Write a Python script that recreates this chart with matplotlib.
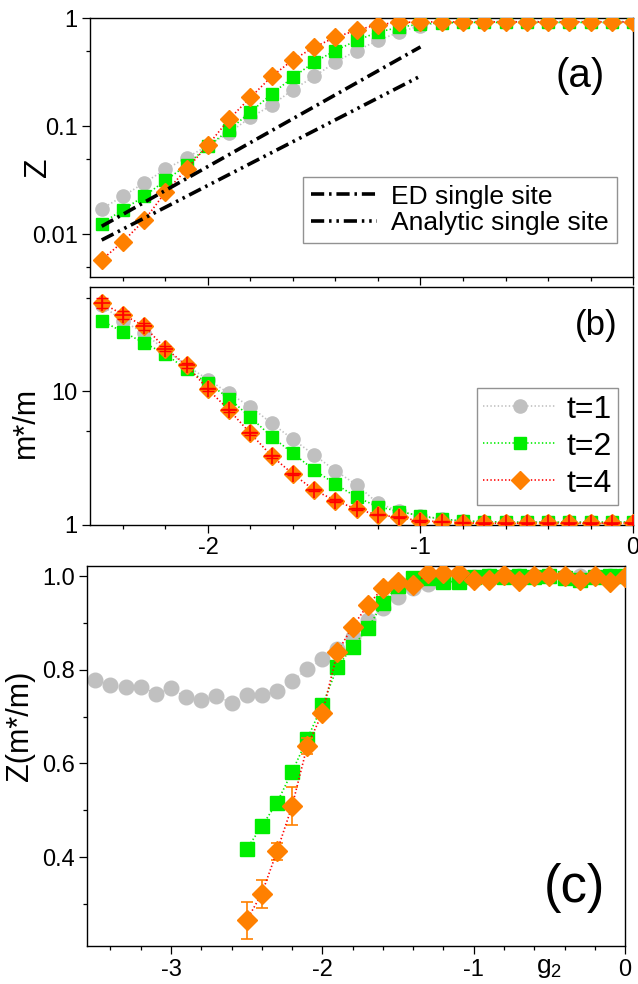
import matplotlib
matplotlib.use("Agg")
import matplotlib.pyplot as plt
import matplotlib.transforms as mtransforms
import numpy as np

plt.rcParams['font.family'] = ['Liberation Sans', 'DejaVu Sans']
plt.rcParams['mathtext.fontset'] = 'custom'
plt.rcParams['mathtext.rm'] = 'Liberation Sans'
plt.rcParams['lines.scale_dashes'] = False

# ---- data ----
g_ab = [-2.5, -2.4, -2.3, -2.2, -2.1, -2.0, -1.9, -1.8, -1.7, -1.6, -1.5, -1.4, -1.3,
        -1.2, -1.1, -1.0, -0.9, -0.8, -0.7, -0.6, -0.5, -0.4, -0.3, -0.2, -0.1, 0.0]

# (a) quasiparticle weight Z
z_t1 = [0.0171, 0.0224, 0.0298, 0.0397, 0.0509, 0.066, 0.087, 0.12, 0.156, 0.217, 0.288, 0.39, 0.50,
        0.62, 0.74, 0.85, 0.91, 0.93, 0.93, 0.93, 0.93, 0.93, 0.93, 0.93, 0.93, 0.93]
z_t2 = [0.0125, 0.0168, 0.0224, 0.0313, 0.0435, 0.065, 0.092, 0.135, 0.198, 0.283, 0.39, 0.50, 0.62,
        0.74, 0.82, 0.88, 0.90, 0.91, 0.91, 0.91, 0.91, 0.91, 0.91, 0.91, 0.91, 0.91]
z_t4 = [0.00577, 0.0085, 0.0134, 0.0244, 0.040, 0.0667, 0.116, 0.184, 0.288, 0.41, 0.537, 0.665, 0.77,
        0.87, 0.91, 0.92, 0.92, 0.92, 0.92, 0.92, 0.92, 0.92, 0.92, 0.92, 0.92, 0.92]

# single-site results (straight lines on the log axis)
ed_g = [-2.5, -1.0]
ed_z = [0.0118, 0.54]
an_g = [-2.5, -1.0]
an_z = [0.0088, 0.29]

# (b) effective mass m*/m
m_t1 = [43.8, 33.5, 27.0, 20.2, 15.5, 12.2, 9.6, 7.64, 5.74, 4.36, 3.33, 2.54, 1.99,
        1.45, 1.27, 1.16, 1.10, 1.07, 1.06, 1.05, 1.05, 1.05, 1.05, 1.05, 1.05, 1.05]
m_t2 = [33.5, 27.7, 22.9, 18.9, 14.5, 11.5, 8.8, 6.37, 4.56, 3.43, 2.57, 2.02, 1.61,
        1.37, 1.26, 1.17, 1.11, 1.07, 1.06, 1.05, 1.05, 1.05, 1.05, 1.05, 1.05, 1.05]
m_t4 = [45.6, 37.3, 30.5, 20.8, 15.6, 10.3, 7.2, 4.83, 3.27, 2.40, 1.82, 1.52, 1.31,
        1.19, 1.14, 1.07, 1.06, 1.04, 1.03, 1.03, 1.03, 1.03, 1.03, 1.03, 1.03, 1.03]
m_t4_err = [4.0, 2.5, 1.8, 1.0, 0.6, 0.3, 0.2, 0.1, 0.08, 0.05, 0.04, 0.03, 0.02,
            0.01, 0.01, 0.01, 0.01, 0.01, 0.01, 0.01, 0.01, 0.01, 0.01, 0.01, 0.01, 0.01]

# (c) Z(m*/m)
g_c1 = [-3.5, -3.4, -3.3, -3.2, -3.1, -3.0, -2.9, -2.8, -2.7, -2.6] + g_ab
zm_t1 = [0.778, 0.768, 0.764, 0.764, 0.749, 0.760, 0.741, 0.736, 0.744, 0.729,
         0.746, 0.746, 0.754, 0.776, 0.801, 0.822, 0.845, 0.869, 0.906, 0.931, 0.956, 0.974, 0.984,
         0.990, 0.995, 0.998, 0.999, 1.0, 1.0, 1.0, 1.0, 1.0, 1.0, 1.0, 1.0, 1.0]
zm_t2 = [0.417, 0.466, 0.516, 0.582, 0.652, 0.724, 0.806, 0.849, 0.888, 0.942, 0.979, 0.995, 0.995,
         0.988, 0.988, 0.998, 1.0, 0.998, 1.0, 0.998, 1.0, 0.995, 0.991, 0.998, 1.0, 1.0]
zm_t4 = [0.265, 0.322, 0.412, 0.509, 0.637, 0.707, 0.838, 0.892, 0.938, 0.974, 0.988, 0.981, 1.006,
         1.006, 1.006, 0.991, 0.991, 1.002, 0.990, 1.0, 1.0, 1.0, 0.991, 1.0, 0.988, 0.998]
zm_t4_err = [0.04, 0.03, 0.018, 0.04, 0.017, 0.01, 0.006, 0.005, 0.005, 0.004, 0.004, 0.004, 0.004,
             0.004, 0.004, 0.004, 0.004, 0.004, 0.004, 0.004, 0.004, 0.004, 0.004, 0.004, 0.004, 0.004]

GRAY = '#c0c0c0'
GREEN = '#00ee00'
ORANGE = '#ff8000'
RED = '#ff0000'

fig = plt.figure(figsize=(6.38, 9.84), dpi=100)
ax1 = fig.add_axes([0.1411, 0.7185, 0.8511, 0.2632])
ax2 = fig.add_axes([0.1411, 0.4665, 0.8511, 0.2419])
ax3 = fig.add_axes([0.1364, 0.0386, 0.8433, 0.3862])


def style_axis(ax):
    for s in ax.spines.values():
        s.set_linewidth(1.0)
    ax.tick_params(which='both', direction='out', top=False, right=False, width=0.9,
                   labelsize=17, pad=3)
    ax.tick_params(which='major', length=6)
    ax.tick_params(which='minor', length=3)


# ---------------- (a) ----------------
ax1.plot(g_ab, z_t1, ':', color=GRAY, lw=1.2, marker='o', ms=9.5, mfc=GRAY, mec=GRAY, zorder=2)
ax1.plot(g_ab, z_t2, ':', color=GREEN, lw=1.2, marker='s', ms=9, mfc=GREEN, mec=GREEN, zorder=3)
ax1.plot(g_ab, z_t4, ':', color=RED, lw=1.2, marker='D', ms=9, mfc=ORANGE, mec=ORANGE, zorder=4)
l_ed, = ax1.plot(ed_g, ed_z, color='k', lw=2.6, dashes=(9.5, 3.5, 1.8, 3.5), zorder=5)
l_an, = ax1.plot(an_g, an_z, color='k', lw=2.6, dashes=(9.5, 3.5, 1.8, 3.5, 1.8, 3.5), zorder=5)
ax1.set_yscale('log')
ax1.set_ylim(0.004, 1.0)
ax1.set_xlim(-2.555, 0.0)
ax1.set_yticks([0.01, 0.1, 1], ['0.01', '0.1', '1'])
ax1.set_yticks([0.005, 0.05, 0.5], minor=True)
ax1.set_yticklabels([], minor=True)
ax1.set_xticks([-2, -1, 0])
ax1.set_xticks(np.arange(-2.4, 0.0, 0.2), minor=True)
ax1.set_xticklabels([])
ax1.set_ylabel('Z', fontsize=23)
ax1.yaxis.set_label_coords(-0.068, 0.425)
style_axis(ax1)
leg1 = ax1.legend([l_ed, l_an], ['ED single site', 'Analytic single site'], loc='lower right',
                  bbox_to_anchor=(0.9705, 0.131), borderaxespad=0, fontsize=19, frameon=True,
                  fancybox=False, edgecolor='#777777', handlelength=2.5, handletextpad=0.55,
                  labelspacing=0.1, borderpad=0.3)
leg1.get_frame().set_linewidth(1.0)
ax1.text(0.948, 0.776, '(a)', transform=ax1.transAxes, ha='right', va='center', fontsize=29)

# ---------------- (b) ----------------
h1, = ax2.plot(g_ab, m_t1, ':', color=GRAY, lw=1.2, marker='o', ms=9.5, mfc=GRAY, mec=GRAY, zorder=2)
h2, = ax2.plot(g_ab, m_t2, ':', color=GREEN, lw=1.2, marker='s', ms=9, mfc=GREEN, mec=GREEN, zorder=3)
h3, = ax2.plot(g_ab, m_t4, ':', color=RED, lw=1.2, marker='D', ms=9, mfc=ORANGE, mec=ORANGE, zorder=4)
ax2.errorbar(g_ab, m_t4, yerr=m_t4_err, fmt='none', ecolor=RED, elinewidth=1.0, capsize=4,
             capthick=1.0, zorder=5)
ax2.plot(g_ab, m_t4, linestyle='none', marker='+', ms=11, mew=1.2, color=RED, zorder=6)
ax2.set_yscale('log')
ax2.set_ylim(1, 60)
ax2.set_xlim(-2.555, 0.0)
ax2.set_yticks([1, 10], ['1', '10'])
ax2.set_yticks([5, 50], minor=True)
ax2.set_yticklabels([], minor=True)
ax2.set_xticks([-2, -1, 0], ['-2', '-1', '0'])
ax2.set_xticks(np.arange(-2.4, 0.0, 0.2), minor=True)
ax2.set_ylabel('m*/m', fontsize=22)
ax2.yaxis.set_label_coords(-0.09, 0.43)
style_axis(ax2)
leg2 = ax2.legend([h1, h2, h3], ['t=1', 't=2', 't=4'], loc='lower right',
                  bbox_to_anchor=(0.972, 0.084), borderaxespad=0, fontsize=23, frameon=True,
                  fancybox=False, edgecolor='#777777', handlelength=2.3, handletextpad=0.3,
                  labelspacing=0.22, borderpad=0.2, markerscale=1.0)
leg2.get_frame().set_linewidth(1.0)
ax2.text(0.972, 0.84, '(b)', transform=ax2.transAxes, ha='right', va='center', fontsize=25)

# ---------------- (c) ----------------
ax3.plot(g_c1, zm_t1, ':', color=GRAY, lw=1.0, marker='o', ms=10.5, mfc=GRAY, mec=GRAY, zorder=2)
ax3.plot(g_ab, zm_t2, ':', color=GREEN, lw=1.2, marker='s', ms=10, mfc=GREEN, mec=GREEN, zorder=3)
ax3.errorbar(g_ab, zm_t4, yerr=zm_t4_err, fmt=':', color=RED, lw=1.2, marker='D', ms=10.5,
             mfc=ORANGE, mec=ORANGE, ecolor=ORANGE, elinewidth=1.2, capsize=4.5, capthick=1.2,
             zorder=4)
ax3.set_xlim(-3.555, 0.0)
ax3.set_ylim(0.21, 1.0214)
ax3.set_yticks([0.4, 0.6, 0.8, 1.0], ['0.4', '0.6', '0.8', '1.0'])
ax3.set_yticks([0.3, 0.5, 0.7, 0.9], minor=True)
ax3.set_xticks([-3, -2, -1, 0], ['-3', '-2', '-1', '0'])
ax3.set_xticks(np.arange(-3.4, 0.0, 0.2), minor=True)
ax3.set_ylabel('Z(m*/m)', fontsize=22)
ax3.yaxis.set_label_coords(-0.097, 0.58)
style_axis(ax3)
trans = mtransforms.blended_transform_factory(ax3.transData, ax3.transAxes)
ax3.text(-0.5, -0.026, r'$\mathregular{g_2}$', transform=trans, ha='center', va='top', fontsize=19)
ax3.text(0.963, 0.153, '(c)', transform=ax3.transAxes, ha='right', va='center', fontsize=38)

fig.savefig('out.png', dpi=100)
